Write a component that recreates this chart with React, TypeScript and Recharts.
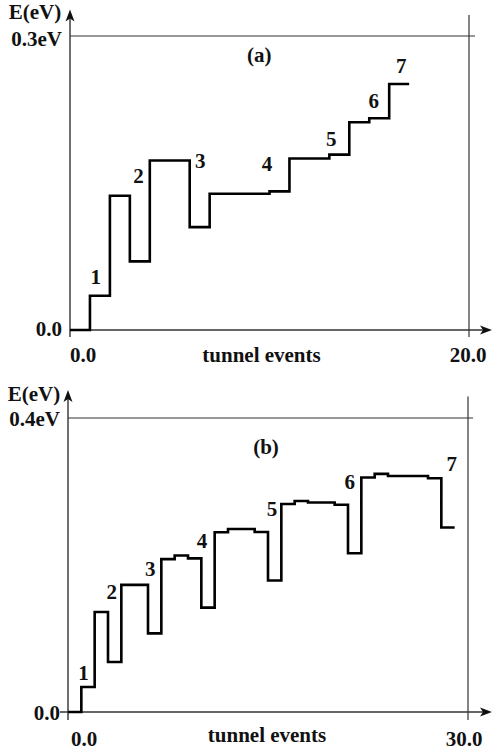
import { ComposedChart, Line, Scatter, XAxis, YAxis, ReferenceLine } from 'recharts'

// panel (a): energy after each tunnel event
const eventsA = [0, 1, 2, 3, 4, 5, 6, 7, 8, 9, 10, 11, 12, 13, 14, 15, 16, 17]
const energyA = [0, 0.035, 0.137, 0.07, 0.173, 0.173, 0.105, 0.139, 0.139, 0.139, 0.1415, 0.175, 0.175, 0.179, 0.212, 0.216, 0.251, 0.251]
const tagTextA = ['1', '2', '3', '4', '5', '6', '7', '(a)']
const tagXA = [1.29, 3.43, 6.53, 9.87, 13.1, 15.22, 16.6, 9.49]
const tagYA = [0.054, 0.157, 0.172, 0.169, 0.195, 0.234, 0.269, 0.281]

// panel (b)
const eventsB = [0, 1, 2, 3, 4, 5, 6, 7, 8, 9, 10, 11, 12, 13, 14, 15, 16, 17, 18, 19, 20, 21, 22, 23, 24, 25, 26, 27, 28, 29]
const energyB = [0, 0.034, 0.136, 0.068, 0.173, 0.173, 0.107, 0.208, 0.213, 0.209, 0.142, 0.2445, 0.249, 0.249, 0.245, 0.179, 0.283, 0.287, 0.285, 0.285, 0.282, 0.216, 0.319, 0.324, 0.321, 0.321, 0.321, 0.318, 0.251, 0.251]
const tagTextB = ['1', '2', '3', '4', '5', '6', '7', '(b)']
const tagXB = [1.16, 3.28, 6.16, 10.05, 15.3, 21.14, 28.78, 14.85]
const tagYB = [0.0524, 0.163, 0.195, 0.232, 0.276, 0.313, 0.337, 0.361]

const FONT = "'Liberation Serif', 'Times New Roman', Times, serif"
const INK = '#111'
const FRAME = '#333'

const txt = { fontFamily: FONT, fontWeight: 700, fontSize: 21, fill: INK }

function arrowX(left: number, right: number) {
  return (p: any) => {
    const y = p.y1
    const a = Math.min(p.x1, p.x2) - left
    const b = Math.max(p.x1, p.x2) + right
    return (
      <g>
        <line x1={a} y1={y} x2={b - 6} y2={y} stroke={FRAME} strokeWidth={1.4} />
        <polygon points={`${b},${y} ${b - 12},${y - 4.5} ${b - 9},${y} ${b - 12},${y + 4.5}`} fill={INK} />
      </g>
    )
  }
}

function arrowY(up: number, down: number) {
  return (p: any) => {
    const x = p.x1
    const top = Math.min(p.y1, p.y2) - up
    const bot = Math.max(p.y1, p.y2) + down
    return (
      <g>
        <line x1={x} y1={top + 6} x2={x} y2={bot} stroke={FRAME} strokeWidth={1.4} />
        <polygon points={`${x},${top} ${x - 4.5},${top + 12} ${x},${top + 9} ${x + 4.5},${top + 12}`} fill={INK} />
      </g>
    )
  }
}

function frameLine(up: number, down: number, left: number, right: number) {
  return (p: any) => (
    <line
      x1={Math.min(p.x1, p.x2) - left}
      x2={Math.max(p.x1, p.x2) + right}
      y1={Math.min(p.y1, p.y2) - up}
      y2={Math.max(p.y1, p.y2) + down}
      stroke={FRAME}
      strokeWidth={1.2}
    />
  )
}

interface PanelProps {
  events: number[]
  energy: number[]
  tagText: string[]
  tagX: number[]
  tagY: number[]
  xMax: number
  yMax: number
  height: number
  top: number
  right: number
  xh: number
  yw: number
  yArrowUp: number
  yArrowDown: number
  xArrowLeft: number
  xArrowRight: number
  topRight: number
  sideUp: number
  sideDown: number
  x0dx: number
  xEnddx: number
  tickDy: number
  titleDx: number
  titleUp: number
  topTickDy: number
  zeroTickDy: number
}

function Panel(pp: PanelProps) {
  const rows = pp.events.map((x, i) => ({ x, e: pp.energy[i] }))
  const tags = pp.tagText.map((t, i) => ({ x: pp.tagX[i], y: pp.tagY[i], t }))

  return (
    <ComposedChart width={493} height={pp.height} margin={{ top: pp.top, right: pp.right, bottom: 0, left: 0 }}>
      <XAxis
        type="number"
        dataKey="x"
        domain={[0, pp.xMax]}
        ticks={[0, pp.xMax]}
        height={pp.xh}
        axisLine={false}
        tickLine={false}
        tickSize={6}
        tickMargin={2}
        tick={(p: any) => (
          <text
            x={p.x + (p.index === 0 ? pp.x0dx : pp.xEnddx)}
            y={p.y + pp.tickDy}
            textAnchor={p.index === 0 ? 'start' : 'middle'}
            {...txt}
          >
            {p.payload.value.toFixed(1)}
          </text>
        )}
        label={{
          content: (p: any) => (
            <text
              x={p.viewBox.x + p.viewBox.width / 2 + pp.titleDx}
              y={p.viewBox.y + p.viewBox.height - pp.titleUp}
              textAnchor="middle"
              {...txt}
            >
              tunnel events
            </text>
          ),
        }}
      />
      <YAxis
        type="number"
        domain={[0, pp.yMax]}
        ticks={[0, pp.yMax]}
        width={pp.yw}
        axisLine={false}
        tickLine={false}
        tickSize={6}
        tickMargin={2}
        tick={(p: any) => (
          <text
            x={p.x}
            y={p.y + (p.payload.value === 0 ? pp.zeroTickDy : pp.topTickDy)}
            textAnchor="end"
            dominantBaseline="central"
            {...txt}
          >
            {p.payload.value === 0 ? '0.0' : `${p.payload.value}eV`}
          </text>
        )}
        label={{
          content: (p: any) => (
            <text x={p.viewBox.x + p.viewBox.width / 2} y={p.viewBox.y - 17} textAnchor="middle" {...txt}>
              E(eV)
            </text>
          ),
        }}
      />
      <ReferenceLine y={pp.yMax} shape={frameLine(0, 0, 0, pp.topRight)} />
      <ReferenceLine x={pp.xMax} shape={frameLine(pp.sideUp, pp.sideDown, 0, 0)} />
      <ReferenceLine y={0} shape={arrowX(pp.xArrowLeft, pp.xArrowRight)} />
      <ReferenceLine x={0} shape={arrowY(pp.yArrowUp, pp.yArrowDown)} />
      <Line
        data={rows}
        dataKey="e"
        type="stepAfter"
        stroke="#000"
        strokeWidth={2.6}
        dot={false}
        activeDot={false}
        isAnimationActive={false}
      />
      <Scatter
        data={tags}
        dataKey="y"
        isAnimationActive={false}
        shape={(p: any) => (
          <text x={p.cx} y={p.cy} textAnchor="middle" dominantBaseline="central" {...txt}>
            {p.payload.t}
          </text>
        )}
      />
    </ComposedChart>
  )
}

export default function App() {
  return (
    <div style={{ position: 'absolute', left: 0, top: 0, width: 493, height: 754, background: '#fff' }}>
      <Panel
        events={eventsA}
        energy={energyA}
        tagText={tagTextA}
        tagX={tagXA}
        tagY={tagYA}
        xMax={20}
        yMax={0.3}
        height={370}
        top={36}
        right={24}
        xh={40}
        yw={70}
        yArrowUp={26.5}
        yArrowDown={7}
        xArrowLeft={0}
        xArrowRight={23}
        topRight={6}
        sideUp={21}
        sideDown={7}
        x0dx={0}
        xEnddx={-1}
        tickDy={24}
        titleDx={-8}
        titleUp={8}
        topTickDy={3}
        zeroTickDy={-1}
      />
      <Panel
        events={eventsB}
        energy={energyB}
        tagText={tagTextB}
        tagX={tagXB}
        tagY={tagYB}
        xMax={30}
        yMax={0.4}
        height={384}
        top={48}
        right={25}
        xh={42}
        yw={68}
        yArrowUp={28}
        yArrowDown={8}
        xArrowLeft={8}
        xArrowRight={24}
        topRight={5}
        sideUp={21.5}
        sideDown={8}
        x0dx={3}
        xEnddx={-4}
        tickDy={26}
        titleDx={-1}
        titleUp={12}
        topTickDy={1}
        zeroTickDy={1}
      />
    </div>
  )
}
